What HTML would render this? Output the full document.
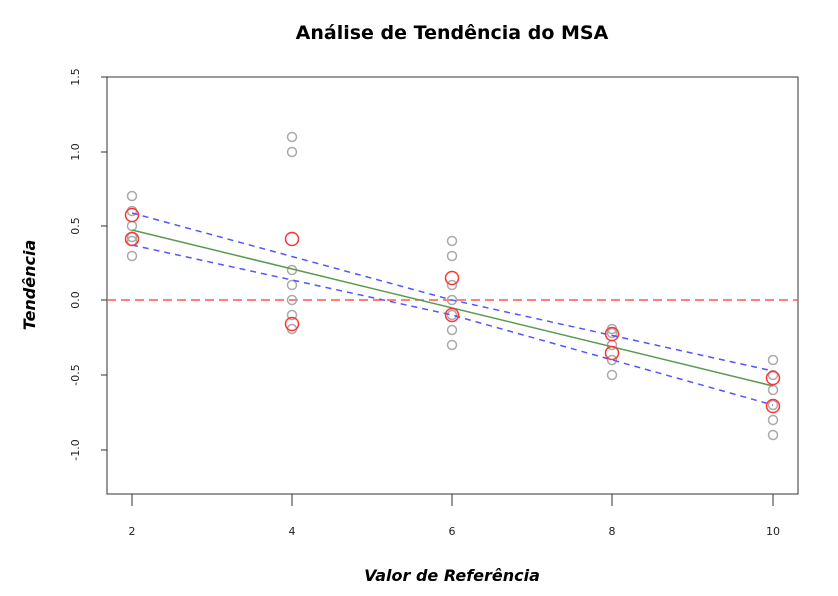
<!DOCTYPE html><html><head><style>body{margin:0;background:#fff}</style></head><body>
<svg width="838" height="591" xmlns="http://www.w3.org/2000/svg" font-family="DejaVu Sans, Liberation Sans, sans-serif">
<text x="452" y="39" text-anchor="middle" font-size="19" font-weight="bold">Análise de Tendência do MSA</text>
<rect x="107" y="77" width="691" height="417" fill="none" stroke="#333" stroke-width="1"/>
<g stroke="#333">
<line x1="101" y1="77" x2="107" y2="77"/><line x1="101" y1="152" x2="107" y2="152"/><line x1="101" y1="226" x2="107" y2="226"/><line x1="101" y1="300" x2="107" y2="300"/><line x1="101" y1="375" x2="107" y2="375"/><line x1="101" y1="450" x2="107" y2="450"/>
<line x1="132" y1="494" x2="132" y2="506"/><line x1="292" y1="494" x2="292" y2="506"/><line x1="452" y1="494" x2="452" y2="506"/><line x1="612" y1="494" x2="612" y2="506"/><line x1="773" y1="494" x2="773" y2="506"/>
</g>
<g font-size="11" fill="#222" text-anchor="middle">
<text transform="translate(79,77) rotate(-90)">1.5</text><text transform="translate(79,152) rotate(-90)">1.0</text><text transform="translate(79,226) rotate(-90)">0.5</text><text transform="translate(79,300) rotate(-90)">0.0</text><text transform="translate(79,375) rotate(-90)">-0.5</text><text transform="translate(79,450) rotate(-90)">-1.0</text>
<text x="132" y="535">2</text><text x="292" y="535">4</text><text x="452" y="535">6</text><text x="612" y="535">8</text><text x="773" y="535">10</text>
</g>
<text x="452" y="581" text-anchor="middle" font-size="16" font-style="italic" font-weight="bold">Valor de Referência</text>
<text transform="translate(35,285) rotate(-90)" text-anchor="middle" font-size="16" font-style="italic" font-weight="bold">Tendência</text>
<line x1="107" y1="300" x2="798" y2="300" stroke="#f55" stroke-width="1.5" stroke-dasharray="9,5"/>
<g fill="none" stroke="#aaa" stroke-width="1.5">
<circle cx="132" cy="196" r="4.5"/><circle cx="132" cy="211" r="4.5"/><circle cx="132" cy="226" r="4.5"/><circle cx="132" cy="237" r="4.5"/><circle cx="132" cy="241" r="4.5"/><circle cx="132" cy="256" r="4.5"/>
<circle cx="292" cy="137" r="4.5"/><circle cx="292" cy="152" r="4.5"/><circle cx="292" cy="270" r="4.5"/><circle cx="292" cy="285" r="4.5"/><circle cx="292" cy="300" r="4.5"/><circle cx="292" cy="315" r="4.5"/><circle cx="292" cy="329" r="4.5"/>
<circle cx="452" cy="241" r="4.5"/><circle cx="452" cy="256" r="4.5"/><circle cx="452" cy="285" r="4.5"/><circle cx="452" cy="300" r="4.5"/><circle cx="452" cy="315" r="4.5"/><circle cx="452" cy="330" r="4.5"/><circle cx="452" cy="345" r="4.5"/>
<circle cx="612" cy="329" r="4.5"/><circle cx="612" cy="333" r="4.5"/><circle cx="612" cy="345" r="4.5"/><circle cx="612" cy="360" r="4.5"/><circle cx="612" cy="375" r="4.5"/>
<circle cx="773" cy="360" r="4.5"/><circle cx="773" cy="375" r="4.5"/><circle cx="773" cy="390" r="4.5"/><circle cx="773" cy="405" r="4.5"/><circle cx="773" cy="420" r="4.5"/><circle cx="773" cy="435" r="4.5"/>
</g>
<polyline points="132,213 452,300 773,371" fill="none" stroke="#55f" stroke-width="1.5" stroke-dasharray="6,5"/>
<polyline points="132,245 452,315 773,405" fill="none" stroke="#55f" stroke-width="1.5" stroke-dasharray="6,5"/>
<line x1="132" y1="230" x2="773" y2="386" stroke="#5a9a50" stroke-width="1.5"/>
<g fill="none" stroke="#f33" stroke-width="1.5">
<circle cx="132" cy="215" r="6.5"/><circle cx="132" cy="239" r="6.5"/>
<circle cx="292" cy="239" r="6.5"/><circle cx="292" cy="324" r="6.5"/>
<circle cx="452" cy="278" r="6.5"/><circle cx="452" cy="315" r="6.5"/>
<circle cx="612" cy="334" r="6.5"/><circle cx="612" cy="353" r="6.5"/>
<circle cx="773" cy="378" r="6.5"/><circle cx="773" cy="406" r="6.5"/>
</g>
</svg></body></html>
